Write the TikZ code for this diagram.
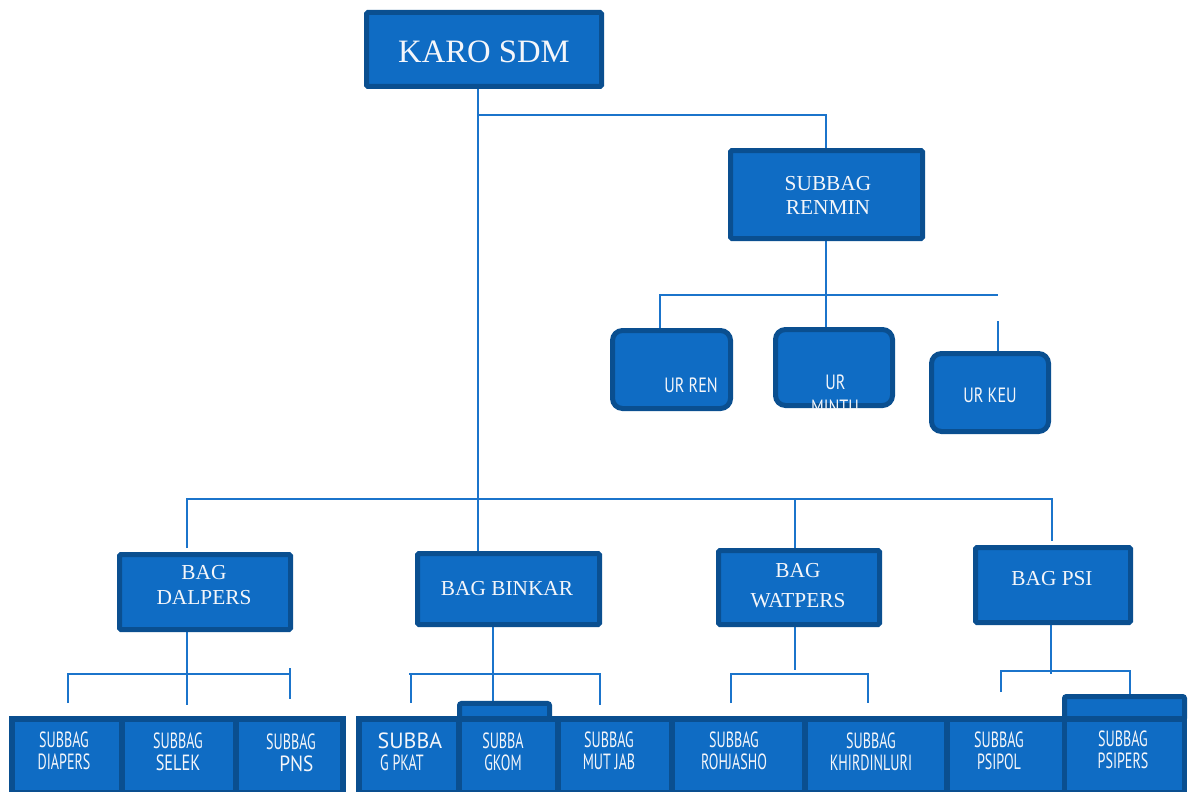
\documentclass[tikz,border=0pt]{standalone}
\usepackage{fontspec}
\setmainfont{Liberation Serif}
\newfontfamily\condA[FakeStretch=0.64]{PT Sans}
\newfontfamily\condB[FakeStretch=0.74]{PT Sans}
\newfontfamily\condC[FakeStretch=0.88]{PT Sans}
\newfontfamily\condD{PT Sans}
\newfontfamily\condU[FakeStretch=0.78]{PT Sans}
\definecolor{boxfill}{HTML}{0F6CC4}
\definecolor{boxedge}{HTML}{0A4F90}
\definecolor{lineblue}{HTML}{1B74CB}
\definecolor{txt}{HTML}{F4F6FA}
\pgfdeclarelayer{bg}
\pgfsetlayers{bg,main}
\begin{document}
\begin{tikzpicture}[x=0.75pt,y=-0.75pt,
  box/.style={draw=boxedge, fill=boxfill, line width=3.75pt, rounded corners=1pt, inner sep=0pt},
  urbox/.style={draw=boxedge, fill=boxfill, line width=3.75pt, rounded corners=7.5pt, inner sep=0pt},
  tabbox/.style={draw=boxedge, fill=boxfill, line width=3.75pt, rounded corners=1.5pt, inner sep=0pt},
  cell/.style={fill=boxfill, inner sep=0pt, minimum height=51pt},
  cont/.style={fill=boxedge, inner sep=0pt, minimum height=57pt},
  stext/.style={text=txt, inner sep=0pt, align=center},
  ctext/.style={text=txt, inner sep=0pt, align=center, font=\condA\fontsize{16.5}{16.5}\selectfont},
  utext/.style={text=txt, inner sep=0pt, align=center, font=\condU\fontsize{15.5}{15.5}\selectfont},
  conn/.style={draw=lineblue, line width=1.5pt}]
\useasboundingbox (0,0) rectangle (1192,792);

% ---- top level
\node[box, minimum width=176.25pt, minimum height=55.5pt] (karo) at (484,49.5) {};
\node[stext, font=\fontsize{24.5}{24.5}\selectfont] (karot) at (484,51.5) {KARO SDM};

\node[box, minimum width=144pt, minimum height=66pt] (renmin) at (826.5,194.5) {};
\node[stext, font=\fontsize{16}{18.4}\selectfont] (renmint) at (828,195.3) {SUBBAG\\RENMIN};

% ---- UR boxes
\node[urbox, minimum width=88.5pt, minimum height=58.5pt] (urren) at (671.5,369.5) {};
\node[utext] (urrent) at (691,385) {UR REN};
\node[urbox, minimum width=87.75pt, minimum height=57pt] (urmintu) at (834,367.5) {};
\node[utext] (urmintut) at (835.5,382) {UR};
\begin{scope}
  \clip (773,327) rectangle (895,408);
  \node[utext] (mintut) at (835,407.5) {MINTU};
\end{scope}
\node[urbox, minimum width=87.75pt, minimum height=58.5pt] (urkeu) at (990,392.5) {};
\node[utext] (urkeut) at (990,395) {UR KEU};

% ---- BAG boxes
\node[box, minimum width=128.25pt, minimum height=56.25pt] (dalpers) at (205,592) {};
\node[stext, font=\fontsize{16}{18.75}\selectfont] (dalperst) at (204,585.5) {BAG\\DALPERS};
\node[box, minimum width=136.5pt, minimum height=53.25pt] (binkar) at (508.5,589) {};
\node[stext, font=\fontsize{16}{18.75}\selectfont] (binkart) at (507,589) {BAG BINKAR};
\node[box, minimum width=120.75pt, minimum height=55.5pt] (watpers) at (799,587.5) {};
\node[stext, font=\fontsize{16}{22.5}\selectfont] (watperst) at (798,585.2) {BAG\\WATPERS};
\node[box, minimum width=116.25pt, minimum height=56.25pt] (psi) at (1053,585) {};
\node[stext, font=\fontsize{16}{18.75}\selectfont] (psit) at (1052,579) {BAG PSI};

% ---- bottom row
\node[tabbox, minimum width=67.5pt, minimum height=12.4pt] (tabA) at (504.5,711.75) {};
\node[tabbox, minimum width=90pt, minimum height=17.6pt] (tabB) at (1124.5,708.25) {};
\node[cont, minimum width=252.75pt] (contA) at (177.5,754) {};
\node[cont, minimum width=623.25pt] (contB) at (771.5,754) {};

\node[cell, minimum width=78pt] (c1) at (67,756) {};
\node[cell, minimum width=81pt] (c2) at (179,756) {};
\node[cell, minimum width=75.75pt] (c3) at (289.5,756) {};
\node[cell, minimum width=70.5pt] (c4) at (409,756) {};
\node[cell, minimum width=69.75pt] (c5) at (508.5,756) {};
\node[cell, minimum width=81pt] (c6) at (615,756) {};
\node[cell, minimum width=95.25pt] (c7) at (738.5,756) {};
\node[cell, minimum width=102pt] (c8) at (876,756) {};
\node[cell, minimum width=84pt] (c9) at (1006,756) {};
\node[cell, minimum width=86.25pt] (c10) at (1124.5,756) {};

\node[ctext] (t1) at (64,751) {SUBBAG\\DIAPERS};
\node[ctext] (t2) at (178,751.5) {SUBBAG\\{\condB SELEK}};
\node[ctext] (t3) at (291,752.5) {SUBBAG\\\hspace*{8pt}{\condC PNS}};
\node[ctext] (t4) at (410,752) {{\condD SUBBA}\\G PKAT\hspace*{12pt}};
\node[ctext] (t5) at (503,751.5) {SUBBA\\GKOM};
\node[ctext] (t6) at (609,751) {SUBBAG\\MUT JAB};
\node[ctext] (t7) at (734,751) {SUBBAG\\ROHJASHO};
\node[ctext] (t8) at (871,752) {SUBBAG\\KHIRDINLURI};
\node[ctext] (t9) at (999,750.5) {SUBBAG\\PSIPOL};
\node[ctext] (t10) at (1123,750) {SUBBAG\\PSIPERS};

% ---- connectors
\coordinate (j1) at (478,115);
\coordinate (j2) at (826,115);
\coordinate (r1) at (660,295);
\coordinate (r2) at (998,295);
\coordinate (k1) at (998,321);
\coordinate (b1) at (187,499);
\coordinate (b2) at (1052,499);
\coordinate (bw) at (795,499);
\coordinate (b1e) at (187,548);
\coordinate (b2e) at (1052,541);
\coordinate (d0) at (187,705);
\coordinate (dL) at (68,674);
\coordinate (dLe) at (68,703);
\coordinate (dR) at (290,674);
\coordinate (dRt) at (290,668);
\coordinate (dRb) at (290,699);
\coordinate (n0) at (493,674);
\coordinate (nL) at (409,674);
\coordinate (nLe) at (411,703);
\coordinate (nR) at (600,674);
\coordinate (nRe) at (600,705);
\coordinate (w0) at (795,670);
\coordinate (wL) at (731,674);
\coordinate (wLe) at (731,703);
\coordinate (wR) at (868,674);
\coordinate (wRe) at (868,703);
\coordinate (p0) at (1051,674);
\coordinate (pL) at (1001,671);
\coordinate (pLe) at (1001,692);
\coordinate (pR) at (1130,671);

\begin{pgfonlayer}{bg}
  \draw[conn] (karo.south -| j1) -- (binkar.north -| j1);
  \draw[conn] (j1) -- (j2) -- (renmin.north -| j2);
  \draw[conn] (renmin.south -| j2) -- (urmintu.north -| j2);
  \draw[conn] (urren.north -| r1) -- (r1) -- (r2);
  \draw[conn] (k1) -- (k1 |- urkeu.north);
  \draw[conn] (b1e) -- (b1) -- (b2) -- (b2e);
  \draw[conn] (bw) -- (bw |- watpers.north);
  % dalpers
  \draw[conn] (dalpers.south -| d0) -- (d0);
  \draw[conn] (dLe) -- (dL) -- (dR);
  \draw[conn] (dRt) -- (dRb);
  % binkar
  \draw[conn] (binkar.south -| n0) -- (n0 |- tabA.north);
  \draw[conn] (nLe |- nL) -- (nLe);
  \draw[conn] (nL) -- (nR) -- (nRe);
  % watpers
  \draw[conn] (watpers.south -| w0) -- (w0);
  \draw[conn] (wLe) -- (wL) -- (wR) -- (wRe);
  % psi
  \draw[conn] (psi.south -| p0) -- (p0);
  \draw[conn] (pLe) -- (pL) -- (pR) -- (pR |- tabB.north);
\end{pgfonlayer}
\end{tikzpicture}
\end{document}
